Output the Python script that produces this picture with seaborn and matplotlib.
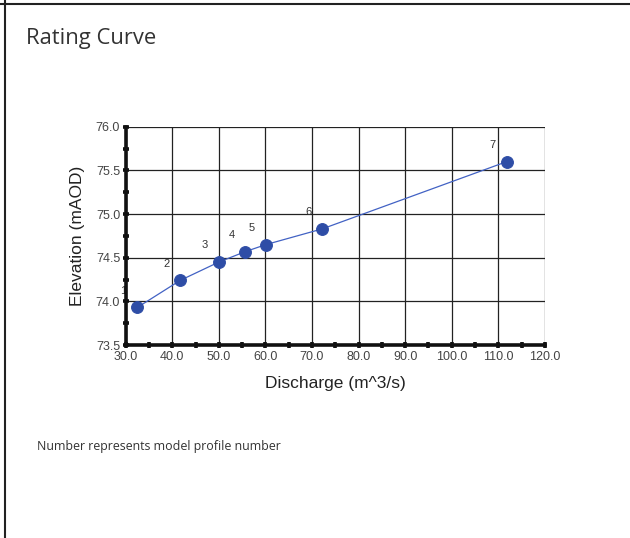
import matplotlib
matplotlib.use("Agg")
import matplotlib.pyplot as plt
import seaborn as sns
import pandas as pd
from matplotlib.lines import Line2D
from matplotlib.ticker import MultipleLocator, FormatStrFormatter

# Rating curve data
profiles = ["1", "2", "3", "4", "5", "6", "7"]
discharge = [32.5, 41.7, 50.0, 55.7, 60.1, 72.2, 111.8]
elevation = [73.93, 74.24, 74.45, 74.57, 74.65, 74.83, 75.60]

df = pd.DataFrame({"Discharge": discharge, "Elevation": elevation, "Profile": profiles})

sns.set_theme(style="white")
plt.rcParams["font.family"] = ["Liberation Sans", "DejaVu Sans"]

fig = plt.figure(figsize=(6.3, 5.38), dpi=100)
ax = fig.add_axes([0.1995, 0.3587, 0.6655, 0.4058])

sns.lineplot(data=df, x="Discharge", y="Elevation", ax=ax, sort=False,
             color="#4262c4", linewidth=0.9, marker="o", markersize=8.5,
             markerfacecolor="#2e4da6", markeredgecolor="#2e4da6", zorder=3)

# profile number labels
for _, r in df.iterrows():
    ax.annotate(r["Profile"], (r["Discharge"], r["Elevation"]), xytext=(-10, 12),
                textcoords="offset points", ha="center", va="center",
                fontsize=8, color="#333333", zorder=1)

ax.set_xlim(30, 120)
ax.set_ylim(73.5, 76.0)
ax.xaxis.set_major_locator(MultipleLocator(10))
ax.xaxis.set_minor_locator(MultipleLocator(5))
ax.yaxis.set_major_locator(MultipleLocator(0.5))
ax.yaxis.set_minor_locator(MultipleLocator(0.25))
ax.xaxis.set_major_formatter(FormatStrFormatter("%.1f"))
ax.yaxis.set_major_formatter(FormatStrFormatter("%.1f"))

ax.grid(True, which="major", color="#222222", linewidth=0.9)
for s in ["top", "right"]:
    ax.spines[s].set_visible(False)
for s in ["left", "bottom"]:
    ax.spines[s].set_color("#111111")
    ax.spines[s].set_linewidth(2.6)
    ax.spines[s].set_zorder(4)

ax.tick_params(which="both", direction="inout", length=4, width=2.6,
               color="#111111", bottom=True, left=True)
ax.tick_params(which="major", labelsize=9, labelcolor="#444444", pad=2)

ax.set_xlabel("Discharge (m^3/s)", fontsize=12.5, color="#222222", labelpad=10)
ax.set_ylabel("Elevation (mAOD)", fontsize=12.5, color="#222222", labelpad=8)

fig.text(0.041, 0.929, "Rating Curve", fontsize=15.8, color="#333333",
         family=["Open Sans", "DejaVu Sans"], va="center")
fig.text(0.058, 0.171, "Number represents model profile number", fontsize=8.9,
         color="#333333", family=["Open Sans", "DejaVu Sans"], va="center")

# outer frame lines (top and left)
fig.add_artist(Line2D([0, 1], [1 - 3.5 / 538] * 2, color="#222222", linewidth=1.5))
fig.add_artist(Line2D([4.5 / 630] * 2, [0, 1], color="#222222", linewidth=1.5))

fig.savefig("out.png", dpi=100)
